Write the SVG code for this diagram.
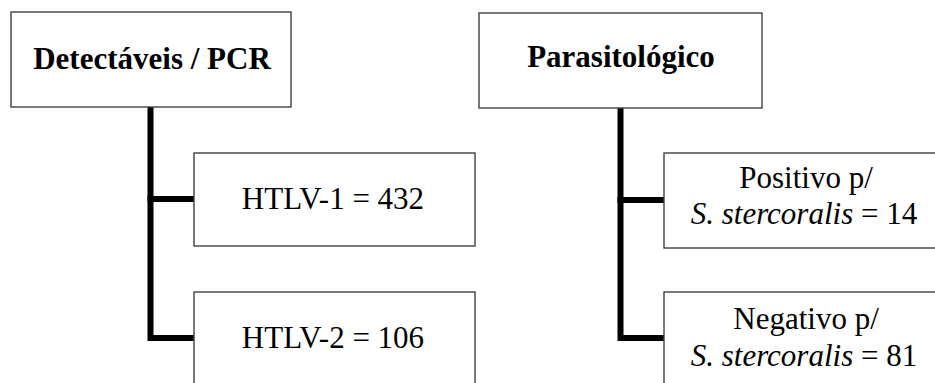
<svg xmlns="http://www.w3.org/2000/svg" width="935" height="383" viewBox="0 0 935 383">
<style>
.box{fill:#fff;stroke:#404040;stroke-width:1.4}
.t{font-family:"Liberation Serif","Times New Roman",serif;font-size:31px;fill:#000;text-anchor:middle}
.b{font-weight:bold}
.c{fill:none;stroke:#000;stroke-width:6;stroke-linecap:square;stroke-linejoin:miter}
</style>
<rect width="935" height="383" fill="#fff"/>
<g id="connectors">
<path class="c" d="M150.5,108 V338 H194"/>
<path class="c" d="M150.5,199 H194"/>
<path class="c" d="M620.5,109 V338 H664"/>
<path class="c" d="M620.5,200 H664"/>
</g>
<g id="n-pcr">
<rect class="box" x="11" y="12" width="280" height="95"/>
<text class="t b" x="152" y="68.5">Detectáveis / PCR</text>
</g>
<g id="n-parasito">
<rect class="box" x="479" y="13" width="283" height="95"/>
<text class="t b" x="621" y="67">Parasitológico</text>
</g>
<g id="n-htlv1">
<rect class="box" x="194" y="153" width="281" height="93"/>
<text class="t" x="333" y="209">HTLV-1 = 432</text>
</g>
<g id="n-htlv2">
<rect class="box" x="194" y="292" width="281" height="100"/>
<text class="t" x="333" y="348">HTLV-2 = 106</text>
</g>
<g id="n-pos">
<rect class="box" x="664" y="153" width="290" height="95"/>
<text class="t" x="806" y="188">Positivo p/</text>
<text class="t" x="804" y="224"><tspan font-style="italic">S. stercoralis</tspan> = 14</text>
</g>
<g id="n-neg">
<rect class="box" x="664" y="292" width="290" height="100"/>
<text class="t" x="806" y="329">Negativo p/</text>
<text class="t" x="804" y="366"><tspan font-style="italic">S. stercoralis</tspan> = 81</text>
</g>
</svg>
